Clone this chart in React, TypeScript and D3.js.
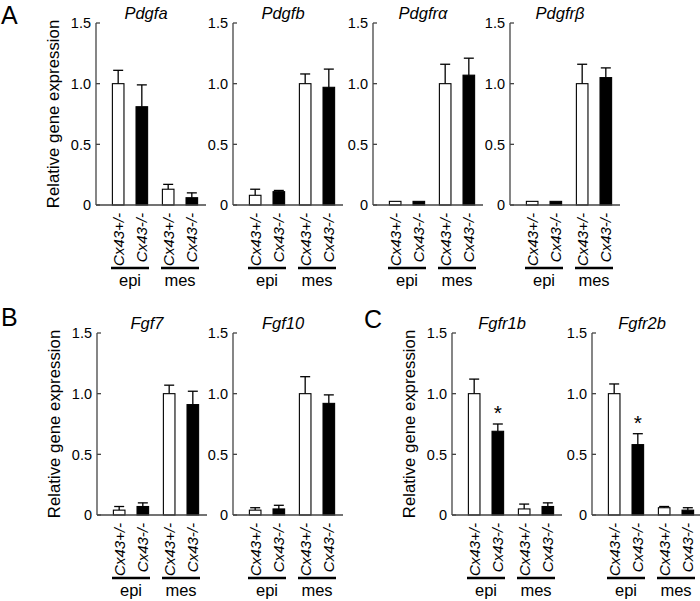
import React from 'react';
import * as d3 from 'd3';

const genotypes = ['Cx43+/-', 'Cx43-/-'];
const tissues = ['epi', 'mes'];
const yTickValues = [0, 0.5, 1.0, 1.5];
const yTickLabels = ['0', '0.5', '1.0', '1.5'];
const yLabel = 'Relative gene expression';

const geneNames = ['Pdgfa', 'Pdgfb', 'Pdgfrα', 'Pdgfrβ', 'Fgf7', 'Fgf10', 'Fgfr1b', 'Fgfr2b'];
// order of values: epi Cx43+/-, epi Cx43-/-, mes Cx43+/-, mes Cx43-/-
const pdgfaMean = [1.0, 0.81, 0.13, 0.06];
const pdgfaErr = [0.11, 0.18, 0.04, 0.04];
const pdgfbMean = [0.08, 0.11, 1.0, 0.97];
const pdgfbErr = [0.05, 0.01, 0.08, 0.15];
const pdgfraMean = [0.03, 0.03, 1.0, 1.07];
const pdgfraErr = [0, 0, 0.16, 0.14];
const pdgfrbMean = [0.03, 0.03, 1.0, 1.05];
const pdgfrbErr = [0, 0, 0.16, 0.08];
const fgf7Mean = [0.04, 0.07, 1.0, 0.91];
const fgf7Err = [0.03, 0.03, 0.07, 0.11];
const fgf10Mean = [0.04, 0.05, 1.0, 0.92];
const fgf10Err = [0.02, 0.03, 0.14, 0.07];
const fgfr1bMean = [1.0, 0.69, 0.05, 0.07];
const fgfr1bErr = [0.12, 0.06, 0.04, 0.03];
const fgfr2bMean = [1.0, 0.58, 0.06, 0.04];
const fgfr2bErr = [0.08, 0.09, 0.01, 0.02];
const fgfr1bStars = ['', '*', '', ''];
const fgfr2bStars = ['', '*', '', ''];
const noStars = ['', '', '', ''];

const panelLetters = ['A', 'B', 'C'];

const FONT = "'Liberation Sans', Arial, Helvetica, sans-serif";

type Sub = {
  name: string;
  ax: number;
  base: number;
  ylab: boolean;
  mean: number[];
  err: number[];
  stars: string[];
};

const subs: Sub[] = [
  { name: geneNames[0], ax: 96, base: 205, ylab: true, mean: pdgfaMean, err: pdgfaErr, stars: noStars },
  { name: geneNames[1], ax: 233, base: 205, ylab: false, mean: pdgfbMean, err: pdgfbErr, stars: noStars },
  { name: geneNames[2], ax: 373, base: 205, ylab: false, mean: pdgfraMean, err: pdgfraErr, stars: noStars },
  { name: geneNames[3], ax: 510, base: 205, ylab: false, mean: pdgfrbMean, err: pdgfrbErr, stars: noStars },
  { name: geneNames[4], ax: 97, base: 515, ylab: true, mean: fgf7Mean, err: fgf7Err, stars: noStars },
  { name: geneNames[5], ax: 233, base: 515, ylab: false, mean: fgf10Mean, err: fgf10Err, stars: noStars },
  { name: geneNames[6], ax: 452, base: 515, ylab: true, mean: fgfr1bMean, err: fgfr1bErr, stars: fgfr1bStars },
  { name: geneNames[7], ax: 592, base: 515, ylab: false, mean: fgfr2bMean, err: fgfr2bErr, stars: fgfr2bStars },
];

const letterPos = [
  { x: 1, y: 24 },
  { x: 1, y: 326 },
  { x: 364, y: 328 },
];

function SubPlot({ s }: { s: Sub }) {
  const y = d3.scaleLinear().domain([0, 1.5]).range([s.base, s.base - 182]);
  const gx = d3.scaleBand<string>().domain(tissues).range([s.ax + 10, s.ax + 108]).paddingInner(0.04);
  const ix = d3.scaleBand<string>().domain(genotypes).range([0, gx.bandwidth()]).paddingInner(0.51).paddingOuter(0.27);
  const bw = ix.bandwidth();
  const items: { t: string; g: string; i: number }[] = [];
  tissues.forEach((t) => genotypes.forEach((g) => items.push({ t, g, i: items.length })));
  const cap = 10;
  return (
    <g>
      <text x={s.ax + 50} y={y(1.5) - 4} textAnchor="middle" fontStyle="italic" fontSize={16.5} fontFamily={FONT}>
        {s.name}
      </text>
      {s.ylab && (
        <text
          transform={`translate(${s.ax - 37},${(y(0) + y(1.5)) / 2}) rotate(-90)`}
          textAnchor="middle"
          fontSize={16.8}
          fontFamily={FONT}
        >
          {yLabel}
        </text>
      )}
      <line x1={s.ax} x2={s.ax} y1={y(0)} y2={y(1.5)} stroke="#444" strokeWidth={1.3} />
      {yTickValues.map((v, k) => (
        <g key={k}>
          <line x1={s.ax} x2={s.ax + 4} y1={y(v)} y2={y(v)} stroke="#444" strokeWidth={1.3} />
          <text x={s.ax - 5} y={y(v)} dy="0.36em" textAnchor="end" fontSize={14.5} fontFamily={FONT}>
            {yTickLabels[k]}
          </text>
        </g>
      ))}
      {items.map((it) => {
        const x0 = (gx(it.t) as number) + (ix(it.g) as number);
        const cx = x0 + bw / 2;
        const m = s.mean[it.i];
        const e = s.err[it.i];
        const fill = it.g === genotypes[0] ? '#fff' : '#000';
        return (
          <g key={it.i}>
            {e > 0 && (
              <g stroke="#000" strokeWidth={1.3}>
                <line x1={cx} x2={cx} y1={y(m)} y2={y(m + e)} />
                <line x1={cx - cap / 2} x2={cx + cap / 2} y1={y(m + e)} y2={y(m + e)} />
              </g>
            )}
            <rect x={x0} y={y(m)} width={bw} height={y(0) - y(m)} fill={fill} stroke="#000" strokeWidth={1.1} />
            {s.stars[it.i] && (
              <text x={cx} y={y(m + e) - 4} textAnchor="middle" fontSize={21} fontFamily={FONT}>
                {s.stars[it.i]}
              </text>
            )}
            <text
              transform={`translate(${cx},${s.base + 8}) rotate(-90)`}
              dy="0.36em"
              textAnchor="end"
              fontStyle="italic"
              fontSize={15}
              fontFamily={FONT}
            >
              {it.g}
            </text>
          </g>
        );
      })}
      <line x1={s.ax} x2={s.ax + 110} y1={y(0)} y2={y(0)} stroke="#444" strokeWidth={1.3} />
      {tissues.map((t) => {
        const c = (gx(t) as number) + gx.bandwidth() / 2;
        return (
          <g key={t}>
            <line x1={c - 19} x2={c + 19} y1={s.base + 63} y2={s.base + 63} stroke="#000" strokeWidth={2.6} />
            <text x={c} y={s.base + 81} textAnchor="middle" fontSize={16.5} fontFamily={FONT}>
              {t}
            </text>
          </g>
        );
      })}
    </g>
  );
}

export default function App() {
  return (
    <svg
      width={700}
      height={601}
      style={{ position: 'absolute', left: 0, top: 0, background: '#fff' }}
    >
      <rect width={700} height={601} fill="#fff" />
      {panelLetters.map((l, k) => (
        <text key={l} x={letterPos[k].x} y={letterPos[k].y} fontSize={25} fontFamily={FONT}>
          {l}
        </text>
      ))}
      {subs.map((s, k) => (
        <SubPlot key={k} s={s} />
      ))}
    </svg>
  );
}
